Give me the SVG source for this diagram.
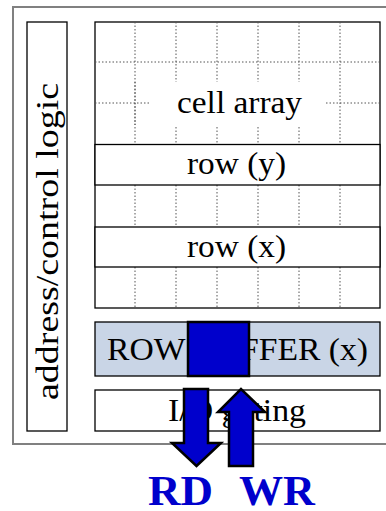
<svg xmlns="http://www.w3.org/2000/svg" width="386" height="511" viewBox="0 0 386 511">
<style>
.box{fill:#fff;stroke:#000;stroke-width:1.3}
.grid{stroke:#555;stroke-width:1;stroke-dasharray:1.5 2;fill:none}
.lbl{font-family:"Liberation Serif","Times New Roman",serif;font-size:32px;fill:#000}
.big{font-family:"Liberation Serif","Times New Roman",serif;font-size:42px;font-weight:bold;fill:#0000cc}
.arrow{fill:#0000cc;stroke:#000;stroke-width:2.5;stroke-linejoin:miter}
</style>
<rect width="386" height="511" fill="#fff"/>
<g id="frame">
<path d="M400 7 H13 V444 H400" fill="none" stroke="#808080" stroke-width="2"/>
</g>
<g id="control-logic">
<rect class="box" x="27" y="22" width="40" height="409"/>
<text class="lbl" transform="translate(58,241.5) rotate(-90)" text-anchor="middle" font-size="36" textLength="317" lengthAdjust="spacingAndGlyphs">address/control logic</text>
</g>
<g id="cell-array">
<rect class="box" x="95" y="22" width="285" height="286"/>
<path class="grid" d="M135 22V144M176 22V144M217 22V144M258 22V144M299 22V144M340 22V144M95 62H380M95 103H380"/>
<path class="grid" d="M135 185V227M176 185V227M217 185V227M258 185V227M299 185V227M340 185V227"/>
<path class="grid" d="M135 267V308M176 267V308M217 267V308M258 267V308M299 267V308M340 267V308"/>
<rect x="150" y="82" width="175" height="43" fill="#fff"/>
<line x1="135" y1="82" x2="135" y2="125" class="grid"/>
<text class="lbl" x="239.5" y="113" text-anchor="middle" textLength="125" lengthAdjust="spacingAndGlyphs">cell array</text>
</g>
<g id="row-y">
<rect class="box" x="95" y="144.5" width="285" height="40.5"/>
<text class="lbl" x="236.5" y="174" text-anchor="middle" textLength="99" lengthAdjust="spacingAndGlyphs">row (y)</text>
</g>
<g id="row-x">
<rect class="box" x="95" y="227" width="285" height="40"/>
<text class="lbl" x="236.5" y="257" text-anchor="middle" textLength="99" lengthAdjust="spacingAndGlyphs">row (x)</text>
</g>
<g id="row-buffer">
<rect x="95" y="322" width="285" height="54" fill="#c9d5e6" stroke="#000" stroke-width="1.3"/>
<text class="lbl" x="107" y="360" textLength="261" lengthAdjust="spacingAndGlyphs">ROW BUFFER (x)</text>
<rect x="188" y="322" width="61" height="54" fill="#0000cc" stroke="#000" stroke-width="2.5"/>
</g>
<g id="io-gating">
<rect class="box" x="95" y="390" width="285" height="41"/>
<text class="lbl" x="168" y="421" textLength="138" lengthAdjust="spacingAndGlyphs">I/O gating</text>
</g>
<g id="connectors">
<path id="rd-arrow" class="arrow" d="M184 389 H208 V443 H221 L196.5 466 L172 443 H184 Z"/>
<path id="wr-arrow" class="arrow" d="M229 466 V412 H218 L241 389 L265 412 H253 V466 Z"/>
</g>
<g id="labels">
<text class="big" x="148" y="505" textLength="65" lengthAdjust="spacingAndGlyphs">RD</text>
<text class="big" x="239" y="505" textLength="76" lengthAdjust="spacingAndGlyphs">WR</text>
</g>
</svg>
